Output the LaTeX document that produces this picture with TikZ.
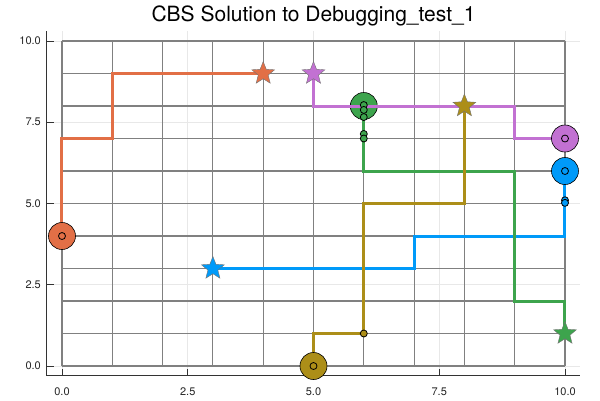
\documentclass[tikz,border=0pt]{standalone}
\usepackage{fontspec}
\setmainfont{TeX Gyre Heros}
\usetikzlibrary{shapes.geometric}

\definecolor{agentblue}{HTML}{009AF9}
\definecolor{agentorange}{HTML}{E26F46}
\definecolor{agentgreen}{HTML}{3DA44D}
\definecolor{agentpurple}{HTML}{C271D2}
\definecolor{agentgold}{HTML}{AC8E18}

\begin{document}
\begin{tikzpicture}[
    x=50.3pt, y=32.5pt,
    tickgrid/.style={line width=0.8pt, draw=black!9},
    cellgrid/.style={line width=1.1pt, draw=black!50},
    axisline/.style={line width=1.1pt, draw=black!80},
    ticklabel/.style={font=\fontsize{11}{13}\selectfont, text=black!85},
    route/.style={line width=3pt, line join=miter},
    startdot/.style={circle, draw=black, line width=0.6pt, minimum size=27pt, inner sep=0pt},
    stepdot/.style={circle, draw=black, line width=0.8pt, minimum size=7pt, inner sep=0pt},
    goalstar/.style={star, star points=5, star point ratio=2.3, draw=black!55, line width=0.4pt, minimum size=24pt, inner sep=0pt}
]

    \useasboundingbox (-1.2326,-1.046) rectangle (10.696,11.262);

    % Title
    \node[font=\fontsize{21}{25}\selectfont, anchor=base] (title) at (5,10.615) {CBS Solution to Debugging\_test\_1};

    % Light grid at the ticks
    \foreach \v in {0,2.5,5,7.5,10} {
        \draw[tickgrid] (\v,-0.3) -- (\v,10.3);
        \draw[tickgrid] (-0.3,\v) -- (10.3,\v);
    }

    % Map cells
    \foreach \i in {0,...,10} {
        \draw[cellgrid] (\i,0) -- (\i,10);
        \draw[cellgrid] (0,\i) -- (10,\i);
    }

    % Axes, ticks and tick labels
    \draw[axisline] (-0.3,10.3) -- (-0.3,-0.3) -- (10.3,-0.3);
    \foreach \v/\txt [count=\k] in {0/0.0, 2.5/2.5, 5/5.0, 7.5/7.5, 10/10.0} {
        \draw[line width=0.8pt, draw=black!80] (\v,-0.3) -- ++(0,7pt);
        \draw[line width=0.8pt, draw=black!80] (-0.3,\v) -- ++(7pt,0);
        \node[ticklabel, anchor=base] (xtick\k) at (\v,-0.892) {\txt};
        \node[ticklabel, anchor=east, inner sep=0pt] (ytick\k) at (-0.4175,\v) {\txt};
    }

    % Start and goal cells
    \coordinate (sblue) at (10,6);   \coordinate (gblue) at (3,3);
    \coordinate (sorange) at (0,4);  \coordinate (gorange) at (4,9);
    \coordinate (sgreen) at (6,8);   \coordinate (ggreen) at (10,1);
    \coordinate (spurple) at (10,7); \coordinate (gpurple) at (5,9);
    \coordinate (sgold) at (5,0);    \coordinate (ggold) at (8,8);

    % --- Agent 1 ---
    \draw[route, agentblue] (sblue) |- (7,4) |- (gblue);
    \node[startdot, fill=agentblue] (startblue) at (sblue) {};
    \node[goalstar, fill=agentblue] (goalblue) at (gblue) {};

    % --- Agent 2 ---
    \draw[route, agentorange] (sorange) |- (1,7) |- (gorange);
    \node[startdot, fill=agentorange] (startorange) at (sorange) {};
    \node[goalstar, fill=agentorange] (goalorange) at (gorange) {};

    % --- Agent 3 ---
    \draw[route, agentgreen] (sgreen) |- (9,6) |- (10,2) -- (ggreen);
    \node[startdot, fill=agentgreen] (startgreen) at (sgreen) {};
    \node[goalstar, fill=agentgreen] (goalgreen) at (ggreen) {};

    % --- Agent 4 ---
    \draw[route, agentpurple] (spurple) -| (9,8) -| (gpurple);
    \node[startdot, fill=agentpurple] (startpurple) at (spurple) {};
    \node[goalstar, fill=agentpurple] (goalpurple) at (gpurple) {};

    % --- Agent 5 ---
    \draw[route, agentgold] (sgold) |- (6,1) |- (8,5) -- (ggold);
    \node[startdot, fill=agentgold] (startgold) at (sgold) {};
    \node[goalstar, fill=agentgold] (goalgold) at (ggold) {};

    % Step markers
    \foreach \p [count=\k] in {(10,6), (10,5.1), (10,5.02)}
        \node[stepdot, fill=agentblue] (stepblue\k) at \p {};
    \node[stepdot, fill=agentorange] (steporange1) at (0,4) {};
    \foreach \p [count=\k] in {(6,8.03), (6,7.88), (6,7.66), (6,7.14), (6,7.0)}
        \node[stepdot, fill=agentgreen] (stepgreen\k) at \p {};
    \node[stepdot, fill=agentpurple] (steppurple1) at (10,7) {};
    \foreach \p [count=\k] in {(5,0), (6,1)}
        \node[stepdot, fill=agentgold] (stepgold\k) at \p {};

\end{tikzpicture}
\end{document}
